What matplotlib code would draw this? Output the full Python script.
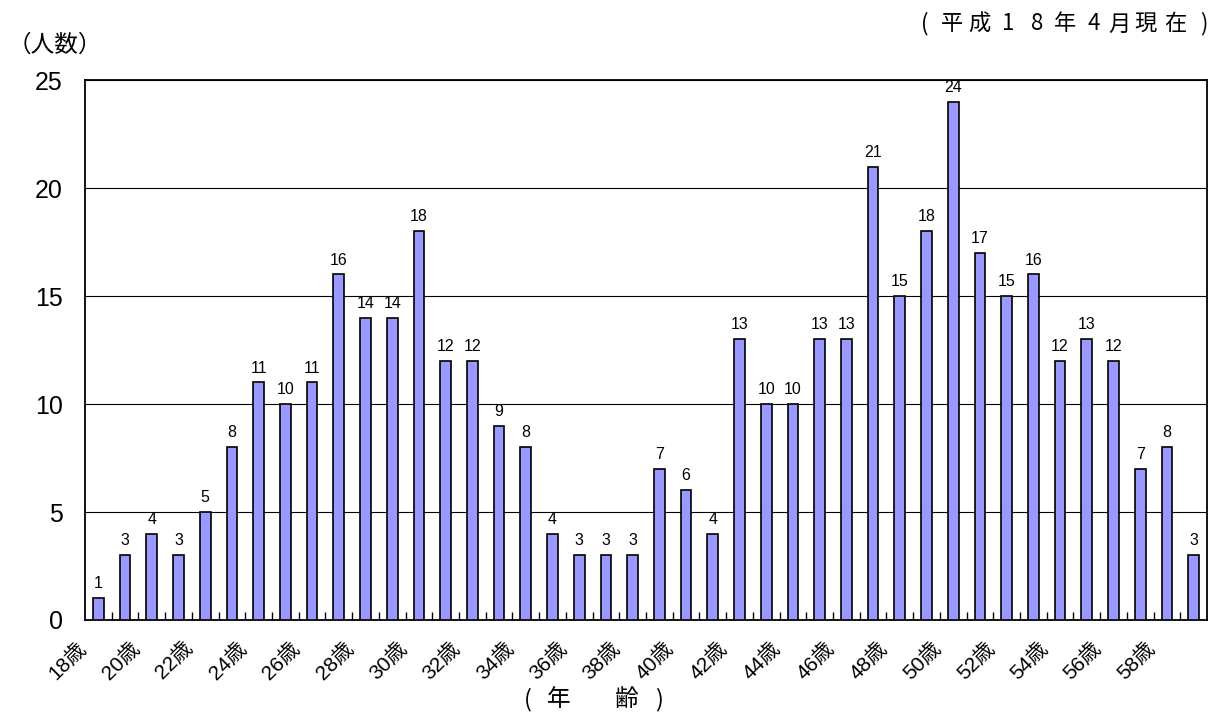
import numpy as np
import matplotlib
matplotlib.use("Agg")
import matplotlib.pyplot as plt
import matplotlib.transforms as mtransforms

plt.rcParams['font.family'] = ['Liberation Sans', 'Noto Sans CJK JP', 'DejaVu Sans']

ages = list(range(18, 60))
counts = [1, 3, 4, 3, 5, 8, 11, 10, 11, 16, 14, 14, 18, 12, 12, 9, 8, 4, 3, 3, 3,
          7, 6, 4, 13, 10, 10, 13, 13, 21, 15, 18, 24, 17, 15, 16, 12, 13, 12, 7, 8, 3]
yticks = [0, 5, 10, 15, 20, 25]

# spaced-out header / footer strings, one character at a time (x in pixels)
date_chars = ["(", "平", "成", "1", "8", "年", "4", "月", "現", "在", ")"]
date_xpos = [925, 952, 979, 1008, 1037, 1065, 1094, 1119, 1145, 1175, 1204]
xlabel_chars = ["(", "年", "齢", ")"]
xlabel_xpos = [528, 559, 626, 659]


def main():
    fig = plt.figure(figsize=(12.2, 7.22), dpi=100)
    ax = fig.add_axes([0.0697, 0.1413, 0.9196, 0.7477])

    x = np.arange(len(ages))
    ax.bar(x, counts, width=0.4, color='#9999FF', edgecolor='black', linewidth=1.2, zorder=3)
    for xi, c in zip(x, counts):
        ax.annotate(str(c), (xi, c), xytext=(0, 5), textcoords='offset points',
                    ha='center', va='bottom', fontsize=11.5)

    ax.set_xlim(-0.5, len(ages) - 0.5)
    ax.set_ylim(0, 25)
    ax.set_yticks(yticks)
    ax.yaxis.grid(True, color='black', linewidth=0.8, zorder=0)
    ax.tick_params(axis='y', length=0, pad=16, labelsize=18)
    for s in ax.spines.values():
        s.set_linewidth(1.3)

    # labels on every other age, small inward ticks between categories
    ax.set_xticks(x[::2])
    ax.set_xticklabels([f"{a}歳" for a in ages[::2]], rotation=45, ha='right',
                       va='center', rotation_mode='anchor', fontsize=15)
    ax.set_xticks(np.arange(0.5, len(ages) - 1, 1), minor=True)
    ax.tick_params(axis='x', which='major', length=0, pad=18)
    ax.tick_params(axis='x', which='minor', direction='in', length=6, width=1)
    offset = mtransforms.ScaledTranslation(-11 / 72, 0, fig.dpi_scale_trans)
    for lbl in ax.get_xticklabels():
        lbl.set_transform(lbl.get_transform() + offset)

    fig.text(8 / 1220, 1 - 45 / 722, "（人数）", fontsize=17, ha='left', va='center',
             family=['Noto Sans CJK JP'])
    for ch, px in zip(date_chars, date_xpos):
        fig.text(px / 1220, 1 - 24 / 722, ch, fontsize=16, ha='center', va='center',
                 family=['Noto Sans CJK JP'])
    for ch, px in zip(xlabel_chars, xlabel_xpos):
        fig.text(px / 1220, 1 - 700 / 722, ch, fontsize=17, ha='center', va='center',
                 family=['Noto Sans CJK JP'])

    fig.savefig("out.png", dpi=100, facecolor='white')


if __name__ == "__main__":
    main()
